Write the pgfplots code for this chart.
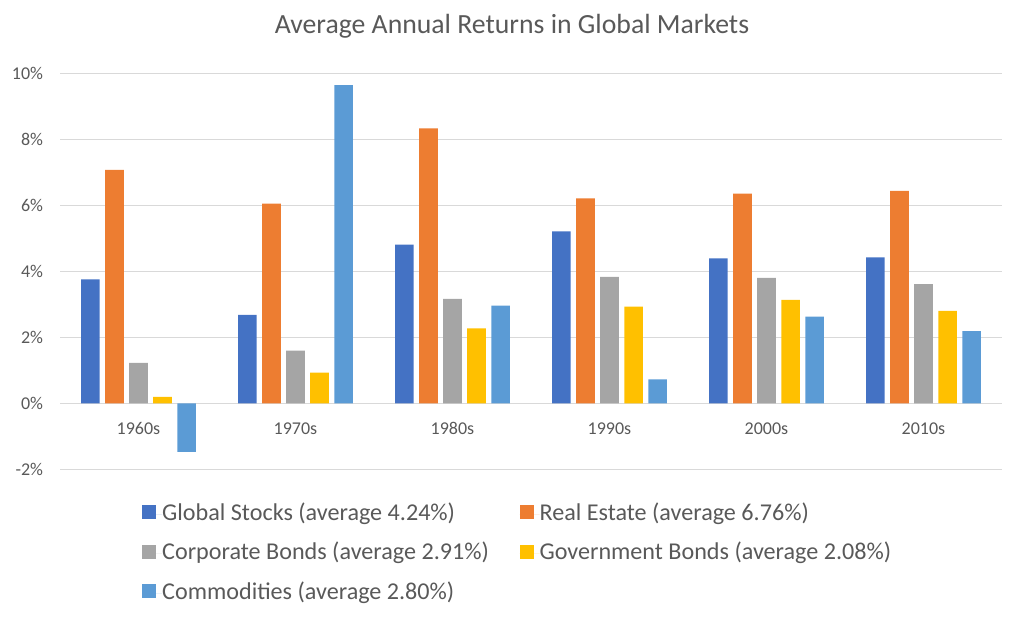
\documentclass[border=0pt]{standalone}
\usepackage{fontspec}
\setmainfont{Carlito}
\usepackage{pgfplots}
\pgfplotsset{compat=1.18}
\definecolor{cA}{HTML}{4472C4}
\definecolor{cB}{HTML}{ED7D31}
\definecolor{cC}{HTML}{A5A5A5}
\definecolor{cD}{HTML}{FFC000}
\definecolor{cE}{HTML}{5B9BD5}
\definecolor{txt}{HTML}{595959}
\definecolor{grd}{HTML}{D9D9D9}
\pgfplotsset{sqlegend/.style={legend image code/.code={%
  \fill[##1] (0pt,-3.75pt) rectangle (10.5pt,6.75pt);
  \path (0pt,0pt) -- (15pt,0pt);}}}
\begin{document}
\begin{tikzpicture}
\useasboundingbox (0,0) rectangle (768pt,467.25pt);
\begin{axis}[
  at={(45pt,115.3pt)}, anchor=south west,
  scale only axis, width=706.5pt, height=296.5pt,
  xmin=-0.5, xmax=5.5, ymin=-2, ymax=10,
  ybar=4.06pt, bar width=14pt,
  xtick={0,1,2,3,4,5},
  xticklabels={1960s,1970s,1980s,1990s,2000s,2010s},
  ytick={-2,0,2,4,6,8,10},
  yticklabels={-2\%,0\%,2\%,4\%,6\%,8\%,10\%},
  ymajorgrids, grid style={grd, line width=0.75pt},
  axis line style={draw=none}, major tick length=0pt,
  tick label style={font=\fontsize{13.5}{16}\selectfont, text=txt},
  xticklabel style={anchor=base, inner sep=0pt, yshift=25.7pt},
  yticklabel style={anchor=east, inner sep=0pt, xshift=-12.5pt},
  title={Average Annual Returns in Global Markets},
  title style={at={(axis description cs:0.4798,1.081)}, anchor=base, inner sep=0pt,
    font=\fontsize{20.8}{25}\selectfont, text=txt},
  legend columns=2,
  legend cell align=left,
  legend style={at={(axis description cs:0.087,-0.0845)}, anchor=north west,
    draw=none, fill=none, inner sep=0pt, font=\fontsize{18.1}{21}\selectfont, text=txt,
    nodes={inner sep=0pt, text height=13pt, text depth=4pt},
    row sep=12.6pt,
    /tikz/every even column/.append style={column sep=23pt}},
]
\addplot[fill=cA, draw=none, sqlegend] coordinates {(0,3.76) (1,2.69) (2,4.82) (3,5.22) (4,4.40) (5,4.43)};
\addplot[fill=cB, draw=none, sqlegend] coordinates {(0,7.09) (1,6.06) (2,8.35) (3,6.22) (4,6.37) (5,6.45)};
\addplot[fill=cC, draw=none, sqlegend] coordinates {(0,1.23) (1,1.60) (2,3.17) (3,3.84) (4,3.81) (5,3.62)};
\addplot[fill=cD, draw=none, sqlegend] coordinates {(0,0.20) (1,0.93) (2,2.28) (3,2.94) (4,3.14) (5,2.81)};
\addplot[fill=cE, draw=none, sqlegend] coordinates {(0,-1.47) (1,9.66) (2,2.97) (3,0.73) (4,2.63) (5,2.19)};
\legend{Global Stocks (average 4.24\%),Real Estate (average 6.76\%),Corporate Bonds (average 2.91\%),Government Bonds (average 2.08\%),Commodities (average 2.80\%)}
\end{axis}
\end{tikzpicture}
\end{document}
